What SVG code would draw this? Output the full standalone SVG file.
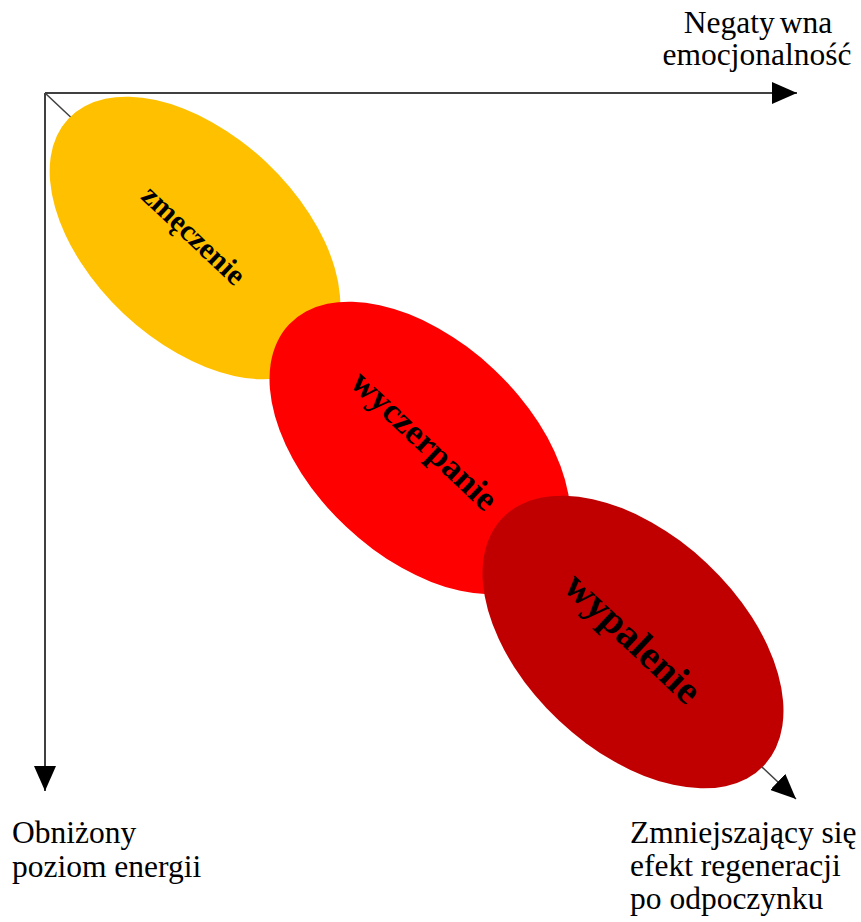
<svg xmlns="http://www.w3.org/2000/svg" width="861" height="922" viewBox="0 0 861 922">
<style>
.lbl{font-family:"Liberation Serif","Times New Roman",serif;font-size:31.5px;fill:#000}
.nt{font-family:"Liberation Serif","Times New Roman",serif;font-weight:bold;fill:#000;text-anchor:middle}
.ax{stroke:#000;stroke-width:1.5;fill:none}
</style>
<defs>
<marker id="arr" markerUnits="userSpaceOnUse" markerWidth="26" markerHeight="22" refX="25" refY="11" orient="auto">
<path d="M0,0 L25,11 L0,22 z" fill="#000"/>
</marker>
</defs>
<rect width="861" height="922" fill="#fff"/>
<g id="connectors">
<line class="ax" x1="45" y1="93" x2="797" y2="93" marker-end="url(#arr)"/>
<line class="ax" x1="45" y1="93" x2="45" y2="791" marker-end="url(#arr)"/>
<line x1="45" y1="93" x2="796" y2="799" stroke="#404040" stroke-width="1.5" marker-end="url(#arr)"/>
</g>
<g id="node-zmeczenie">
<ellipse cx="0" cy="0" rx="174" ry="104" fill="#FFC000" transform="translate(195,238) rotate(43.3)"/>
<text class="nt" font-size="30" x="0" y="10" transform="translate(194,235) rotate(43.3)">zmęczenie</text>
</g>
<g id="node-wyczerpanie">
<ellipse cx="0" cy="0" rx="180" ry="108" fill="#FF0000" transform="translate(420,448) rotate(43.3)"/>
<text class="nt" font-size="35" x="0" y="12" transform="translate(425,440) rotate(43.3)">wyczerpanie</text>
</g>
<g id="node-wypalenie">
<ellipse cx="0" cy="0" rx="180" ry="108" fill="#C00000" transform="translate(633,642) rotate(43.3)"/>
<text class="nt" font-size="40" x="0" y="13" transform="translate(633,638) rotate(43.3)">wypalenie</text>
</g>
<g id="label-x">
<text class="lbl" x="758" y="33" text-anchor="middle">Negaty<tspan dx="5">wna</tspan></text>
<text class="lbl" x="757" y="65" text-anchor="middle">emocjonalność</text>
</g>
<g id="label-y">
<text class="lbl" x="12" y="843">Obniżony</text>
<text class="lbl" x="12" y="877">poziom energii</text>
</g>
<g id="label-diag">
<text class="lbl" x="630" y="843">Zmniejszający się</text>
<text class="lbl" x="630" y="876">efekt regeneracji</text>
<text class="lbl" x="630" y="909">po odpoczynku</text>
</g>
</svg>
